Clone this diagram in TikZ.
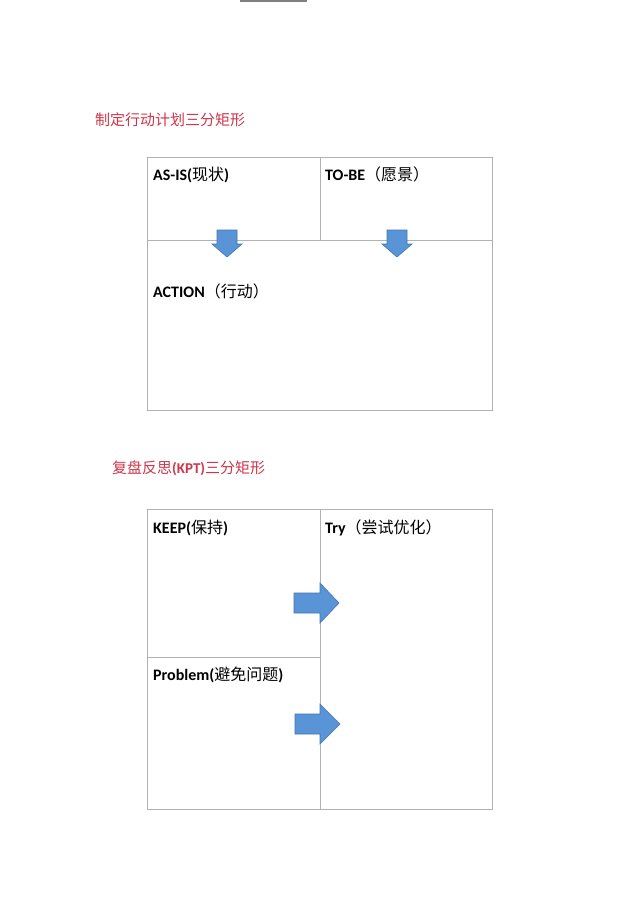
\documentclass[tikz,border=0pt]{standalone}
\usepackage{fontspec}
\setmainfont{Carlito}
\newfontfamily\cjk{Noto Sans CJK SC}

\definecolor{titlered}{RGB}{205,55,75}
\definecolor{boxgray}{RGB}{178,178,178}
\definecolor{arrowblue}{RGB}{88,148,214}
\definecolor{arrowedge}{RGB}{68,118,178}

\tikzset{
    cell/.style={anchor=base west, inner sep=0pt, font=\fontsize{16}{19}\selectfont\bfseries},
    heading/.style={anchor=base west, inner sep=0pt, text=titlered, font=\fontsize{15}{18}\selectfont},
    frame/.style={draw=boxgray, line width=1pt},
    blockarrow/.style={fill=arrowblue, draw=arrowedge, line width=.6pt}
}

\begin{document}
\begin{tikzpicture}[x=1pt, y=-1pt]
        \fill[white] (0, 0) rectangle (640, 906);
        \useasboundingbox (0, 0) rectangle (640, 906);

        \draw[gray, line width=2pt] (240, 1) -- (307, 1);

        % action plan matrix
        \node[heading] (plantitle) at (95, 125) {\cjk 制定行动计划三分矩形};

        \draw[frame] (147, 157) rectangle (492, 410);
        \draw[frame] (147, 240) -- (492, 240);
        \draw[frame] (320, 157) -- (320, 240);

        \node[cell] (asis) at (153, 180) {AS-IS({\cjk\mdseries 现状})};
        \node[cell] (tobe) at (325, 180) {TO-BE{\cjk\mdseries （愿景）}};
        \node[cell] (action) at (153, 297) {ACTION{\cjk\mdseries （行动）}};

        \filldraw[blockarrow] (217, 230) -- (237, 230) -- (237, 244) -- (242, 244)
            -- (227, 257) -- (212, 244) -- (217, 244) -- cycle;
        \filldraw[blockarrow] (387, 230) -- (407, 230) -- (407, 244) -- (412, 244)
            -- (397, 257) -- (382, 244) -- (387, 244) -- cycle;

        % KPT matrix
        \node[heading] (kpttitle) at (112, 473) {\cjk 复盘反思{\normalfont\bfseries (KPT)}三分矩形};

        \draw[frame] (147, 509) rectangle (492, 809);
        \draw[frame] (320, 509) -- (320, 809);
        \draw[frame] (147, 657) -- (320, 657);

        \node[cell] (keep) at (153, 533) {KEEP({\cjk\mdseries 保持})};
        \node[cell] (try) at (325, 533) {Try{\cjk\mdseries （尝试优化）}};
        \node[cell] (problem) at (153, 680) {Problem({\cjk\mdseries 避免问题})};

        \filldraw[blockarrow] (294, 593) -- (320, 593) -- (320, 583) -- (339, 603)
            -- (320, 623) -- (320, 613) -- (294, 613) -- cycle;
        \filldraw[blockarrow] (295, 714) -- (320, 714) -- (320, 704) -- (340, 724)
            -- (320, 744) -- (320, 734) -- (295, 734) -- cycle;
\end{tikzpicture}
\end{document}
